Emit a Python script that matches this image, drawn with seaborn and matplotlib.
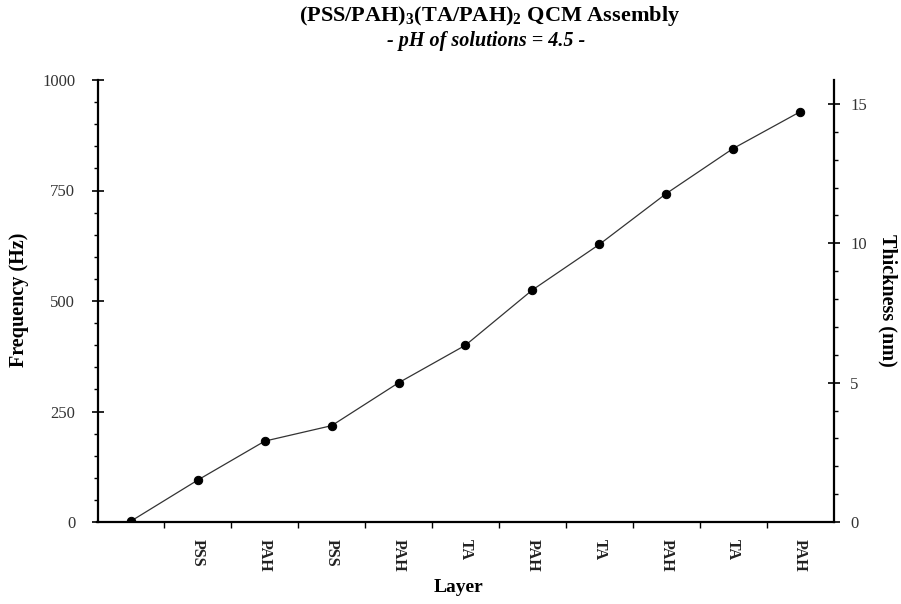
import numpy as np
import pandas as pd
import matplotlib
matplotlib.use("Agg")
import matplotlib.pyplot as plt
from matplotlib.ticker import MultipleLocator, FixedLocator
import seaborn as sns

# Deposited layers (first point is the bare crystal)
layers = ["", "PSS", "PAH", "PSS", "PAH", "TA", "PAH", "TA", "PAH", "TA", "PAH"]
frequency_hz = [2, 95, 183, 218, 315, 400, 525, 628, 743, 845, 928]
freq_ticks = [0, 250, 500, 750, 1000]
thickness_ticks = [0, 5, 10, 15]
thickness_max = 15.86  # thickness equivalent of 1000 Hz

sns.set_theme(style="ticks")
plt.rcParams["font.family"] = ["Liberation Serif", "DejaVu Serif"]
plt.rcParams["mathtext.fontset"] = "custom"
plt.rcParams["mathtext.rm"] = "Liberation Serif"
plt.rcParams["mathtext.bf"] = "Liberation Serif:bold"
plt.rcParams["text.color"] = "black"

df = pd.DataFrame({"pos": np.arange(len(layers)), "freq": frequency_hz})

W, H = 901, 604
fig = plt.figure(figsize=(W / 100, H / 100), dpi=100)
ax = fig.add_axes([97.5 / W, 82 / H, 736 / W, 442 / H])

sns.lineplot(data=df, x="pos", y="freq", ax=ax, color="#333333", linewidth=0.9,
             marker="o", markersize=6, markerfacecolor="black",
             markeredgecolor="black")

ax.set_xlim(-0.5, len(layers) - 0.5)
ax.set_ylim(0, 1000)

# tick marks between categories, labels centred on categories
ax.xaxis.set_major_locator(FixedLocator(np.arange(0.5, len(layers) - 1, 1)))
ax.set_xticklabels([])
ax.xaxis.set_minor_locator(FixedLocator(np.arange(len(layers))))
ax.set_xticklabels(layers, minor=True, rotation=-90, fontsize=11.5,
                   fontweight="bold", va="top", ha="center", color="#222222")
ax.tick_params(axis="x", which="major", direction="out", length=4, width=1,
               color="black")
ax.tick_params(axis="x", which="minor", length=0, pad=12)

ax.yaxis.set_major_locator(FixedLocator(freq_ticks))
ax.yaxis.set_minor_locator(MultipleLocator(50))
ax.set_yticklabels([str(v) for v in freq_ticks], fontsize=12, color="#333333")
ax.tick_params(axis="y", which="major", direction="inout", length=8, width=1.2,
               color="black", pad=12)
ax.tick_params(axis="y", which="minor", direction="out", length=3, width=1,
               color="black")

for side in ["left", "bottom"]:
    ax.spines[side].set_linewidth(1.6)
    ax.spines[side].set_color("black")
ax.spines["top"].set_visible(False)
ax.spines["right"].set_visible(False)
ax.set_xlabel("")
ax.set_ylabel("")

# thickness scale on the right
ax2 = ax.twinx()
ax2.set_ylim(0, thickness_max)
ax2.yaxis.set_major_locator(FixedLocator(thickness_ticks))
ax2.yaxis.set_minor_locator(MultipleLocator(1))
ax2.set_yticklabels([str(v) for v in thickness_ticks], fontsize=12,
                    color="#333333")
ax2.tick_params(axis="y", which="major", direction="inout", length=8,
                width=1.2, color="black", pad=8)
ax2.tick_params(axis="y", which="minor", direction="out", length=3, width=1,
                color="black")
for side in ["top", "left", "bottom"]:
    ax2.spines[side].set_visible(False)
ax2.spines["right"].set_linewidth(1.6)
ax2.spines["right"].set_color("black")

# axis titles
fig.text(459 / W, 1 - 588 / H, "Layer", ha="center", va="center",
         fontsize=14, fontweight="bold", color="black")
fig.text(19 / W, 1 - 300 / H, "Frequency (Hz)", ha="center", va="center",
         rotation=90, fontsize=14.5, fontweight="bold", color="black")
fig.text(888 / W, 1 - 300 / H, "Thickness (nm)", ha="center", va="center",
         rotation=-90, fontsize=14.5, fontweight="bold", color="black")

fig.text(490 / W, 1 - 16 / H,
         r"(PSS/PAH)$_\mathbf{3}$(TA/PAH)$_\mathbf{2}$ QCM Assembly",
         ha="center", va="center", fontsize=16, fontweight="bold",
         color="black")
fig.text(486 / W, 1 - 41 / H, "- pH of solutions = 4.5 -",
         ha="center", va="center", fontsize=14.5, fontweight="bold",
         style="italic", color="black")

fig.savefig("out.png", dpi=100, facecolor="white")
